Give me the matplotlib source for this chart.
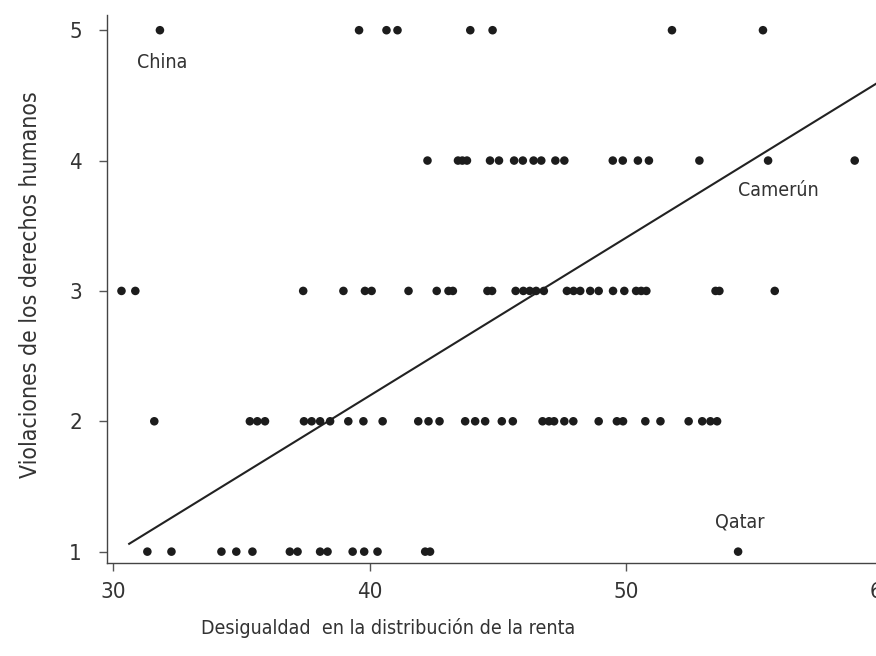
import matplotlib
matplotlib.use('Agg')
import numpy as np
import matplotlib.pyplot as plt

plt.rcParams['font.family'] = ['DejaVu Sans']
plt.rcParams['font.stretch'] = 'condensed'

# Desigualdad (x) por nivel de violaciones (y)
x_nivel5 = [31.82, 39.59, 40.66, 41.09, 43.93, 44.80, 51.80, 55.35]
x_nivel4 = [42.26, 43.45, 43.62, 43.80, 44.70, 45.05, 45.64, 45.98, 46.40, 46.70,
            47.25, 47.60, 49.49, 49.88, 50.47, 50.90, 52.87, 55.55, 58.93]
x_nivel3 = [30.32, 30.86, 37.41, 38.98, 39.82, 40.08, 41.52, 42.62, 43.08, 43.25,
            44.60, 44.78, 45.70, 46.00, 46.25, 46.50, 46.80, 47.70, 47.96, 48.22,
            48.61, 48.94, 49.50, 49.94, 50.40, 50.60, 50.80, 53.50, 53.65, 55.81]
x_nivel2 = [31.60, 35.33, 35.62, 35.92, 37.44, 37.74, 38.07, 38.46, 39.17, 39.76,
            40.51, 41.90, 42.30, 42.73, 43.73, 44.12, 44.51, 45.16, 45.59, 46.75,
            47.00, 47.20, 47.60, 47.95, 48.94, 49.65, 49.89, 50.76, 51.35, 52.45,
            52.98, 53.30, 53.56]
x_nivel1 = [31.33, 32.27, 34.22, 34.80, 35.43, 36.89, 37.19, 38.07, 38.36, 39.34,
            39.79, 40.31, 42.17, 42.36, 54.38]

niveles = [5, 4, 3, 2, 1]
grupos = [x_nivel5, x_nivel4, x_nivel3, x_nivel2, x_nivel1]

# recta de regresion
intercepto = -2.648
pendiente = 0.1211
recta_x = [30.62, 60.0]

# paises etiquetados
paises = ['China', 'Camerún', 'Qatar']
paises_x = [31.9, 55.96, 54.45]
paises_y = [4.75, 3.77, 1.23]

fig = plt.figure(figsize=(8.76, 6.56), dpi=100)
ax = fig.add_axes([0.122, 0.1418, 0.885, 0.835])

for nivel, xs in zip(niveles, grupos):
    ax.scatter(xs, [nivel] * len(xs), s=38, color='#1c1c1c', edgecolors='none', zorder=3)

rx = np.array(recta_x)
ax.plot(rx, intercepto + pendiente * rx, color='#222222', linewidth=1.5, zorder=2)

for nombre, px, py in zip(paises, paises_x, paises_y):
    ax.text(px, py, nombre, ha='center', va='center', fontsize=14, color='#333333')

ax.set_xlim(29.75, 60.0)
ax.set_ylim(0.913, 5.115)
ax.set_xticks([30, 40, 50, 60])
ax.set_yticks([1, 2, 3, 4, 5])

for s in ['top', 'right']:
    ax.spines[s].set_visible(False)
for s in ['left', 'bottom']:
    ax.spines[s].set_color('#444444')
    ax.spines[s].set_linewidth(1.0)

ax.tick_params(axis='both', direction='out', length=6, width=1.0, color='#555555',
               labelsize=16, labelcolor='#333333')
ax.tick_params(axis='y', pad=12)
ax.tick_params(axis='x', pad=8)

ax.set_xlabel('Desigualdad  en la distribución de la renta', fontsize=14, color='#333333')
ax.xaxis.set_label_coords(0.363, -0.10)
ax.set_ylabel('Violaciones de los derechos humanos', fontsize=16.5, color='#333333')
ax.yaxis.set_label_coords(-0.084, 0.509)

fig.savefig('out.png', dpi=100)
